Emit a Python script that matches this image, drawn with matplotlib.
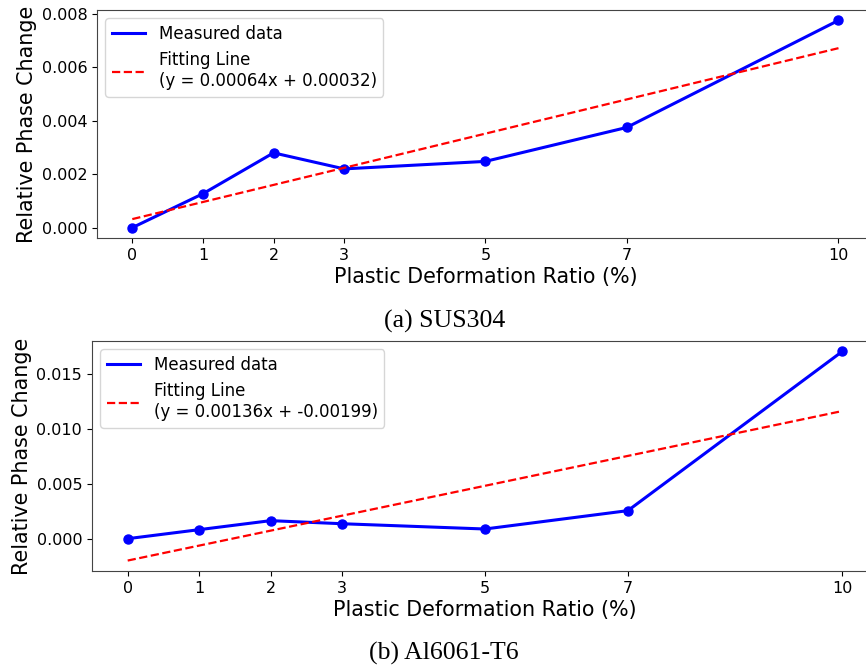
import numpy as np
import matplotlib
matplotlib.use('Agg')
import matplotlib.pyplot as plt

# deformation ratio (%) and measured relative phase change
ratio = [0, 1, 2, 3, 5, 7, 10]
sus304 = [0.0, 0.00127, 0.0028, 0.0022, 0.00248, 0.00375, 0.00776]
al6061 = [0.0, 0.00082, 0.00164, 0.00136, 0.00088, 0.00255, 0.01703]

# linear fits (slope, intercept)
fit_sus = (0.00064, 0.00032)
fit_al = (0.00136, -0.00199)

fig = plt.figure(figsize=(8.66, 6.68), dpi=100)

def draw(ax, y, fit):
    x = np.array(ratio)
    ax.plot(x, y, color='blue', lw=2.2, label='Measured data')
    ax.plot(x, y, 'o', color='blue', ms=6.5)
    ax.plot(x, fit[0]*x + fit[1], '--', color='red', lw=1.6,
            label=f'Fitting Line\n(y = {fit[0]}x + {fit[1]})')
    ax.set_xticks(ratio)
    ax.tick_params(labelsize=11.5)
    ax.set_xlabel('Plastic Deformation Ratio (%)', fontsize=14.9, labelpad=3)
    ax.set_ylabel('Relative Phase Change', fontsize=14.9, labelpad=3)
    ax.legend(loc='upper left', fontsize=12)
    for s in ax.spines.values():
        s.set_color('#444444')

ax1 = fig.add_axes([0.112, 0.6437, 0.897, 0.3413])
draw(ax1, sus304, fit_sus)
ax1.set_yticks([0, 0.002, 0.004, 0.006, 0.008])

ax2 = fig.add_axes([0.1062, 0.1452, 0.9076, 0.3443])
draw(ax2, al6061, fit_al)
ax2.set_yticks([0, 0.005, 0.010, 0.015])

fig.text(0.513, 0.519, '(a) SUS304', ha='center', va='center',
         family='Liberation Serif', fontsize=18.5)
fig.text(0.513, 0.0225, '(b) Al6061-T6', ha='center', va='center',
         family='Liberation Serif', fontsize=18.5)

fig.savefig('out.png', dpi=100)
